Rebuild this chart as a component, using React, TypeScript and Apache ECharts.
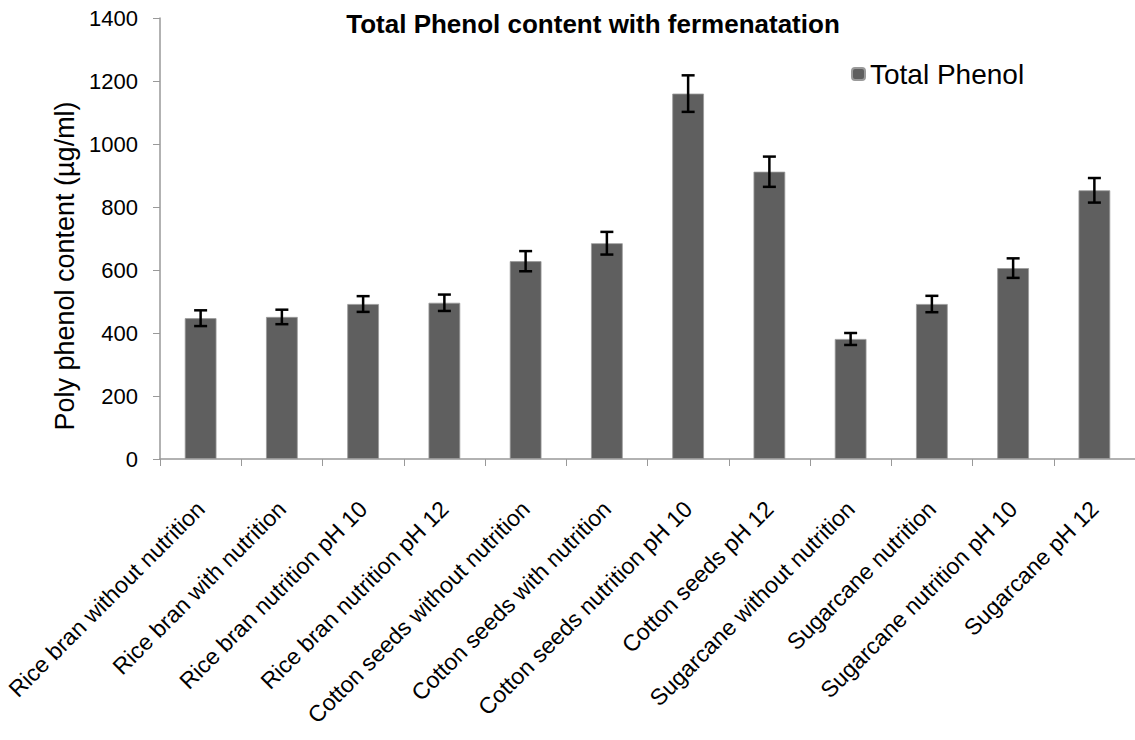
import React, { useEffect, useRef } from "react";
import * as echarts from "echarts";

const categories = [
  "Rice bran without nutrition",
  "Rice bran with nutrition",
  "Rice bran nutrition pH 10",
  "Rice bran nutrition pH 12",
  "Cotton seeds without nutrition",
  "Cotton seeds with nutrition",
  "Cotton seeds nutrition pH 10",
  "Cotton seeds pH 12",
  "Sugarcane without nutrition",
  "Sugarcane nutrition",
  "Sugarcane nutrition pH 10",
  "Sugarcane pH 12",
];
const totalPhenol = [447, 451, 492, 496, 628, 685, 1160, 912, 381, 492, 606, 853];
const errors = [25, 23, 25, 26, 32, 36, 58, 48, 19, 26, 31, 39];
const yTicks = { min: 0, max: 1400, interval: 200 };
const yAxisTitle = "Poly phenol content (µg/ml)";
const chartTitle = "Total Phenol content with fermenatation";
const seriesName = "Total Phenol";

const FONT = "'Liberation Sans', Arial, sans-serif";

export default function App() {
  const ref = useRef<HTMLDivElement>(null);
  useEffect(() => {
    if (!ref.current) return;
    const chart = echarts.init(ref.current, undefined, { renderer: "svg" });
    const errData = totalPhenol.map((v, i) => [i, v - errors[i], v + errors[i]]);
    chart.setOption({
      animation: false,
      backgroundColor: "#ffffff",
      title: {
        text: chartTitle,
        left: 588,
        textAlign: "center",
        top: 6,
        textStyle: { fontFamily: FONT, fontSize: 26, fontWeight: "bold", color: "#000" },
      },
      legend: {
        left: 846,
        top: 55,
        itemWidth: 13,
        itemHeight: 12,
        itemGap: 6,
        data: [seriesName],
        textStyle: { fontFamily: FONT, fontSize: 28, color: "#000" },
      },
      graphic: [
        {
          type: "text",
          x: 65,
          y: 266,
          rotation: Math.PI / 2,
          style: {
            text: yAxisTitle,
            fontFamily: FONT,
            fontSize: 27,
            fill: "#000",
            textAlign: "center",
            textVerticalAlign: "middle",
          },
        },
      ],
      grid: { left: 160, right: -3, top: 18, bottom: 281, containLabel: false },
      xAxis: {
        type: "category",
        data: categories,
        axisLine: { lineStyle: { color: "#999", width: 1.5 } },
        axisTick: { show: true, alignWithLabel: false, length: 7, lineStyle: { color: "#999" } },
        axisLabel: {
          rotate: 45,
          interval: 0,
          margin: 46,
          fontFamily: FONT,
          fontSize: 23,
          color: "#000",
        },
      },
      yAxis: {
        type: "value",
        min: yTicks.min,
        max: yTicks.max,
        interval: yTicks.interval,
        splitLine: { show: false },
        axisLine: { show: true, lineStyle: { color: "#999", width: 1.5 } },
        axisTick: { show: true, length: 7, lineStyle: { color: "#999" } },
        axisLabel: {
          fontFamily: FONT,
          fontSize: 22,
          color: "#000",
          margin: 22,
          formatter: (v: number) => String(v),
        },
      },
      series: [
        {
          name: seriesName,
          type: "bar",
          data: totalPhenol,
          barWidth: "39%",
          itemStyle: { color: "#5f5f5f", borderColor: "#9a9a9a", borderWidth: 0.8 },
        },
        {
          name: "error",
          type: "custom",
          data: errData,
          z: 10,
          renderItem: (params: any, api: any) => {
            const x = api.value(0);
            const lo = api.coord([x, api.value(1)]);
            const hi = api.coord([x, api.value(2)]);
            const hw = 6.5;
            const style = { stroke: "#000", lineWidth: 2.5 };
            return {
              type: "group",
              children: [
                { type: "line", shape: { x1: lo[0], y1: lo[1], x2: hi[0], y2: hi[1] }, style },
                { type: "line", shape: { x1: lo[0] - hw, y1: lo[1], x2: lo[0] + hw, y2: lo[1] }, style },
                { type: "line", shape: { x1: hi[0] - hw, y1: hi[1], x2: hi[0] + hw, y2: hi[1] }, style },
              ],
            };
          },
        },
      ],
    });
    return () => chart.dispose();
  }, []);
  return <div ref={ref} style={{ width: 1135, height: 740, position: "absolute", left: 0, top: 0 }} />;
}
